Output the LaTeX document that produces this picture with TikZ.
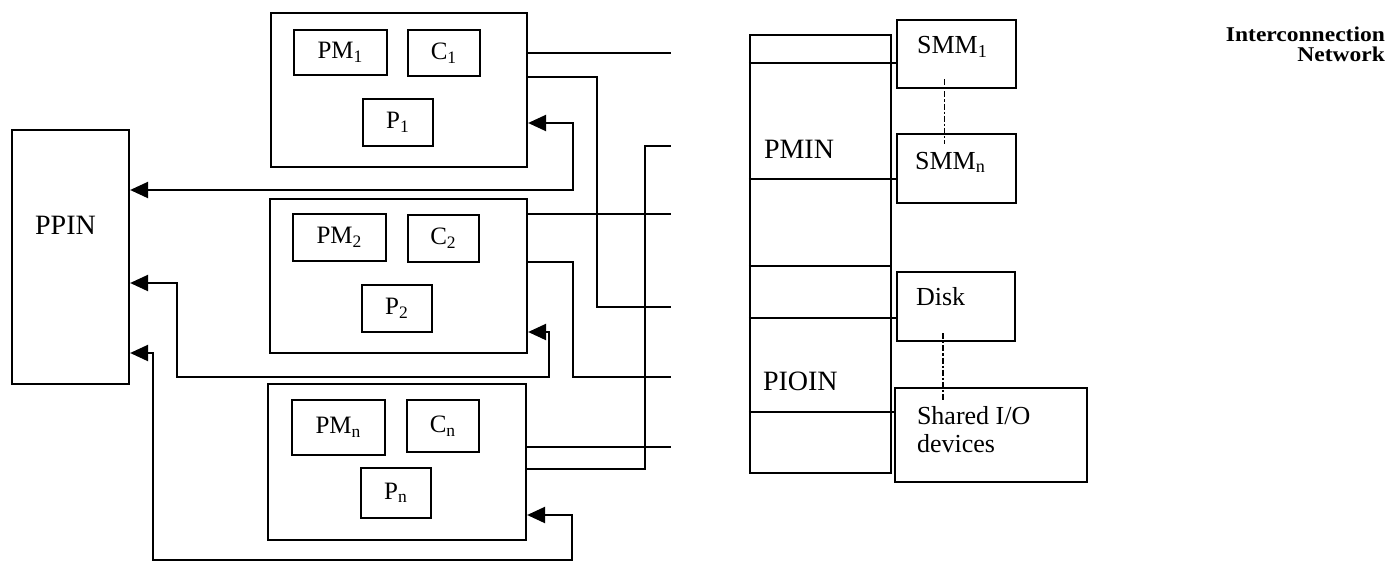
\documentclass[tikz,border=0pt]{standalone}
\usepackage{fontspec}
\setmainfont{Liberation Serif}
\newfontfamily\ttlfont[FakeStretch=1.12]{Liberation Serif}
\usetikzlibrary{arrows.meta,calc,fit}

\begin{document}
\begin{tikzpicture}[x=0.5pt,y=-0.5pt,line width=1.1pt,
  >={Triangle[length=9pt,width=8pt]},
  box/.style={draw,rectangle,inner sep=0pt},
  tag/.style={font=\fontsize{12.5}{14}\selectfont,inner sep=0pt},
  dev/.style={font=\fontsize{13}{14}\selectfont,inner sep=0pt,align=left},
  net/.style={font=\fontsize{14}{16}\selectfont,inner sep=0pt},
  link/.style={densely dashdotted,line width=0.6pt},
]
\useasboundingbox (0,0) rectangle (1399,562);

% processing elements
\node[box,fit={(271,13) (527,167)}] (pe1) {};
\node[box,fit={(294,30) (387,75)},label={[tag]center:PM\textsubscript{1}}] (pm1) {};
\node[box,fit={(408,30) (480,76)},label={[tag]center:C\textsubscript{1}}] (c1) {};
\node[box,fit={(363,99) (433,146)},label={[tag]center:P\textsubscript{1}}] (p1) {};

\node[box,fit={(270,199) (527,353)}] (pe2) {};
\node[box,fit={(293,214) (386,261)},label={[tag]center:PM\textsubscript{2}}] (pm2) {};
\node[box,fit={(408,215) (479,262)},label={[tag]center:C\textsubscript{2}}] (c2) {};
\node[box,fit={(362,285) (432,332)},label={[tag]center:P\textsubscript{2}}] (p2) {};

\node[box,fit={(268,384) (526,540)}] (pen) {};
\node[box,fit={(292,400) (385,455)},label={[tag]center:PM\textsubscript{n}}] (pmn) {};
\node[box,fit={(407,400) (479,452)},label={[tag]center:C\textsubscript{n}}] (cn) {};
\node[box,fit={(361,468) (431,518)},label={[tag]center:P\textsubscript{n}}] (pn) {};

% processor-processor network
\node[box,fit={(12,130) (129,384)}] (ppin) {};
\node[net] (ppin-t) at ($(ppin.center)+(-5,-32)$) {PPIN};

% memory and I/O side
\node[box,fit={(750,35) (891,473)}] (icn) {};
\draw (icn.west |- 0,266) -- (icn.east |- 0,266);
\node[net,anchor=west] (pmin) at ($(icn.north west)+(14,115)$) {PMIN};
\node[net,anchor=west] (pioin) at ($(icn.north west)+(13,347)$) {PIOIN};

\node[box,fit={(897,20) (1016,88)}] (smm1) {};
\node[dev] (smm1-t) at ($(smm1.center)+(-4,-7)$) {SMM\textsubscript{1}};
\node[box,fit={(897,134) (1016,203)}] (smmn) {};
\node[dev] (smmn-t) at ($(smmn.center)+(-6,-6)$) {SMM\textsubscript{n}};
\node[box,fit={(897,272) (1015,341)}] (disk) {};
\node[dev,anchor=west] (disk-t) at ($(disk.north west)+(19,26)$) {Disk};
\node[box,fit={(895,388) (1087,482)}] (shio) {};
\node[dev,anchor=west] (shio-t) at ($(shio.north west)+(22,43)$) {Shared I/O\\devices};

\draw (icn.west |- 0,63) -- (smm1.west |- 0,63);
\draw (icn.west |- 0,179) -- (smmn.west |- 0,179);
\draw (icn.west |- 0,318) -- (disk.west |- 0,318);
\draw (icn.west |- 0,412) -- (shio.west |- 0,412);
\draw[link] ($(smm1.south)+(-12,-10)$) -- ($(smmn.north)+(-12,11)$);
\draw[link] ($(disk.south)+(-13,-9)$) -- ($(disk.south)+(-13,59)$);

\node[anchor=north east,align=right,inner sep=0pt,
  font=\ttlfont\bfseries\fontsize{10.5}{10}\selectfont] (title) at (1386,26)
  {Interconnection\\Network};

% open ends towards the network
\coordinate (bus1) at (671,53);
\coordinate (bus2) at (671,146);
\coordinate (bus3) at (671,214);
\coordinate (bus4) at (671,307);
\coordinate (bus5) at (671,377);
\coordinate (bus6) at (671,447);

\draw (pe1.east |- bus1) -- (bus1);
\draw (pe1.east |- 0,77) -| ($(bus4)+(-74,0)$) -- (bus4);
\draw (pe2.east |- bus3) -- (bus3);
\draw (pe2.east |- 0,262) -| ($(bus5)+(-98,0)$) -- (bus5);
\draw (pen.east |- bus6) -- (bus6);
\draw (pen.east |- 0,469) -| ($(bus2)+(-26,0)$) -- (bus2);

% links back to PPIN
\draw[<->] (ppin.east |- 0,190) -| (573,123) -- (pe1.east |- 0,123);
\draw[<->] (ppin.east |- 0,283) -- (177,283) |- (549,377) |- (pe2.east |- 0,332);
\draw[<->] (ppin.east |- 0,353) -- (153,353) |- (572,560) |- (pen.east |- 0,515);

\end{tikzpicture}
\end{document}
